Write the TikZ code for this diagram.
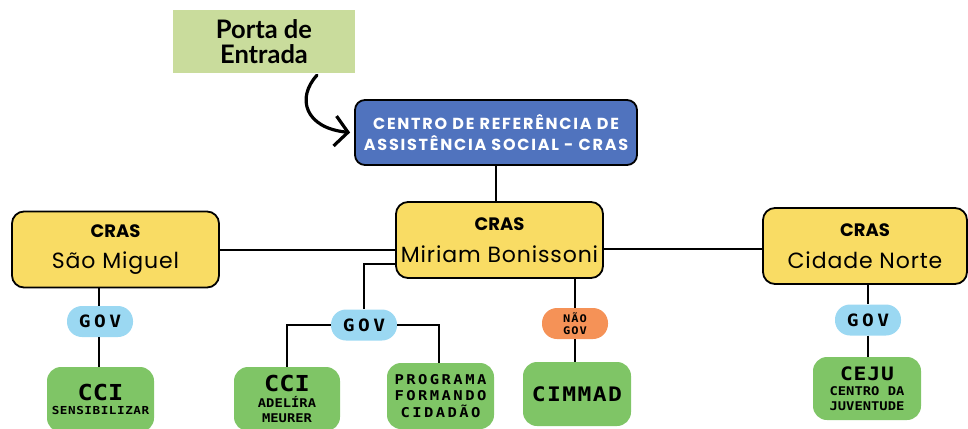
\documentclass[tikz,border=0pt]{standalone}
\usepackage{fontspec}
\setmainfont{Poppins}
\newfontfamily\latofont{Lato}
\newfontfamily\gfont[FakeStretch=1.15]{DejaVu Sans Mono}
\newcommand\gtxt[3]{\gfont\bfseries\fontsize{#1}{#2}\selectfont\addfontfeature{LetterSpace=#3}}
\usetikzlibrary{arrows.meta}
\definecolor{portag}{HTML}{C9DC9C}
\definecolor{crasblue}{HTML}{5073BE}
\definecolor{crasyel}{HTML}{F9DC64}
\definecolor{pillblue}{HTML}{9BD8F2}
\definecolor{pillorange}{HTML}{F59257}
\definecolor{boxgreen}{HTML}{7FC566}
\tikzset{
  conn/.style={line width=2pt, black},
  yelbox/.style={draw=black, line width=1.8pt, fill=crasyel, rounded corners=12pt, align=center, inner sep=0pt},
  pill/.style={rounded corners=15pt, minimum width=66pt, minimum height=31pt, inner sep=0pt, align=center},
  greenbox/.style={fill=boxgreen, rounded corners=14pt, inner sep=0pt, align=center},
}
\begin{document}
\begin{tikzpicture}[x=1pt,y=-1pt]
\useasboundingbox (0,0) rectangle (968,428);
\node[fill=portag, minimum width=182pt, minimum height=63pt, inner sep=0pt, align=center,
  font=\latofont\bfseries\fontsize{25.5}{25}\selectfont] (porta) at (264,41.5) {Porta de\\Entrada};
\node[draw=black, line width=1.8pt, fill=crasblue, rounded corners=10pt, minimum width=282pt, minimum height=65pt,
  inner sep=0pt, align=center, text=white, font=\bfseries\fontsize{16}{21}\selectfont\addfontfeature{LetterSpace=11}] (cras) at (496,132.5)
  {CENTRO DE REFERÊNCIA DE\\ASSISTÊNCIA SOCIAL - CRAS};
\node[yelbox, minimum width=207pt, minimum height=76pt] (miriam) at (499.5,240)
  {\bfseries\fontsize{18}{20}\selectfont CRAS\\[14pt]\mdseries\fontsize{22}{24}\selectfont\addfontfeature{LetterSpace=4}Miriam Bonissoni};
\node[yelbox, minimum width=207pt, minimum height=76pt] (sao) at (115.5,249.5)
  {\bfseries\fontsize{18}{20}\selectfont CRAS\\[14pt]\mdseries\fontsize{22}{24}\selectfont\addfontfeature{LetterSpace=4}São Miguel};
\node[yelbox, minimum width=204pt, minimum height=76pt] (norte) at (865,246)
  {\bfseries\fontsize{18}{20}\selectfont CRAS\\[14pt]\mdseries\fontsize{22}{24}\selectfont\addfontfeature{LetterSpace=4}Cidade Norte};
\node[pill, fill=pillblue] (gov1) at (100,321.5) {\gtxt{17}{17}{20}GOV};
\node[pill, fill=pillblue] (gov2) at (364,325) {\gtxt{17}{17}{20}GOV};
\node[pill, fill=pillorange] (naogov) at (575,323.5) {\gtxt{10.5}{11}{10}NÃO\\\gtxt{10.5}{11}{10}GOV};
\node[pill, fill=pillblue] (gov4) at (868,320) {\gtxt{17}{17}{20}GOV};
\node[greenbox, minimum width=107pt, minimum height=65pt] (cci1) at (100.5,399.5)
  {\gtxt{22}{16}{0}CCI\\[2pt]\gtxt{11}{16}{5}SENSIBILIZAR};
\node[greenbox, minimum width=106pt, minimum height=64pt] (cci2) at (287,399)
  {\gtxt{22}{16}{0}CCI\\[4pt]\gtxt{12}{14}{0}ADELÍRA\\[3pt]\gtxt{12}{13.5}{0}MEURER};
\node[greenbox, minimum width=107pt, minimum height=66pt] (prog) at (440.5,396)
  {\gtxt{13.5}{16}{18}PROGRAMA\\[3.5pt]\gtxt{13.5}{16}{18}FORMANDO\\[3.5pt]\gtxt{13.5}{16}{18}CIDADÃO};
\node[greenbox, minimum width=108pt, minimum height=64pt] (cimmad) at (577,394)
  {\gtxt{20}{20}{7}CIMMAD};
\node[greenbox, minimum width=108pt, minimum height=63pt] (ceju) at (867,388.5)
  {\gtxt{18.5}{15}{5}CEJU\\[3pt]\gtxt{12}{14.5}{0}CENTRO DA\\[3pt]\gtxt{12}{14}{0}JUVENTUDE};
% connectors
\draw[conn] (cras.south) -- (cras.south |- miriam.north);
\draw[conn] (sao.east) -- (sao.east -| miriam.west);
\draw[conn] ([yshift=-3pt]norte.west) -- ([yshift=-3pt]norte.west -| miriam.east);
\draw[conn] ([yshift=-24pt]miriam.west) -| (gov2.north);
\draw[conn] (gov2.west) -| (cci2.north);
\draw[conn] (gov2.east) -| ([xshift=-2pt]prog.north);
\draw[conn] (naogov.north |- miriam.south) -- (naogov.north);
\draw[conn] (naogov.south) -- (naogov.south |- cimmad.north);
\draw[conn] ([xshift=-1pt]gov1.north |- sao.south) -- ([xshift=-1pt]gov1.north);
\draw[conn] ([xshift=-1pt]gov1.south) -- ([xshift=-1pt]gov1.south |- cci1.north);
\draw[conn] (gov4.north |- norte.south) -- (gov4.north);
\draw[conn] (gov4.south) -- (gov4.south |- ceju.north);
% entrance arrow
\draw[line width=3.2pt, line cap=round, -{Straight Barb[length=13pt,width=30pt,line width=3.2pt]}]
  ([xshift=53pt,yshift=-2pt]porta.south) .. controls (296,98) and (305,128) .. ([xshift=-4pt]cras.west);
\end{tikzpicture}
\end{document}
